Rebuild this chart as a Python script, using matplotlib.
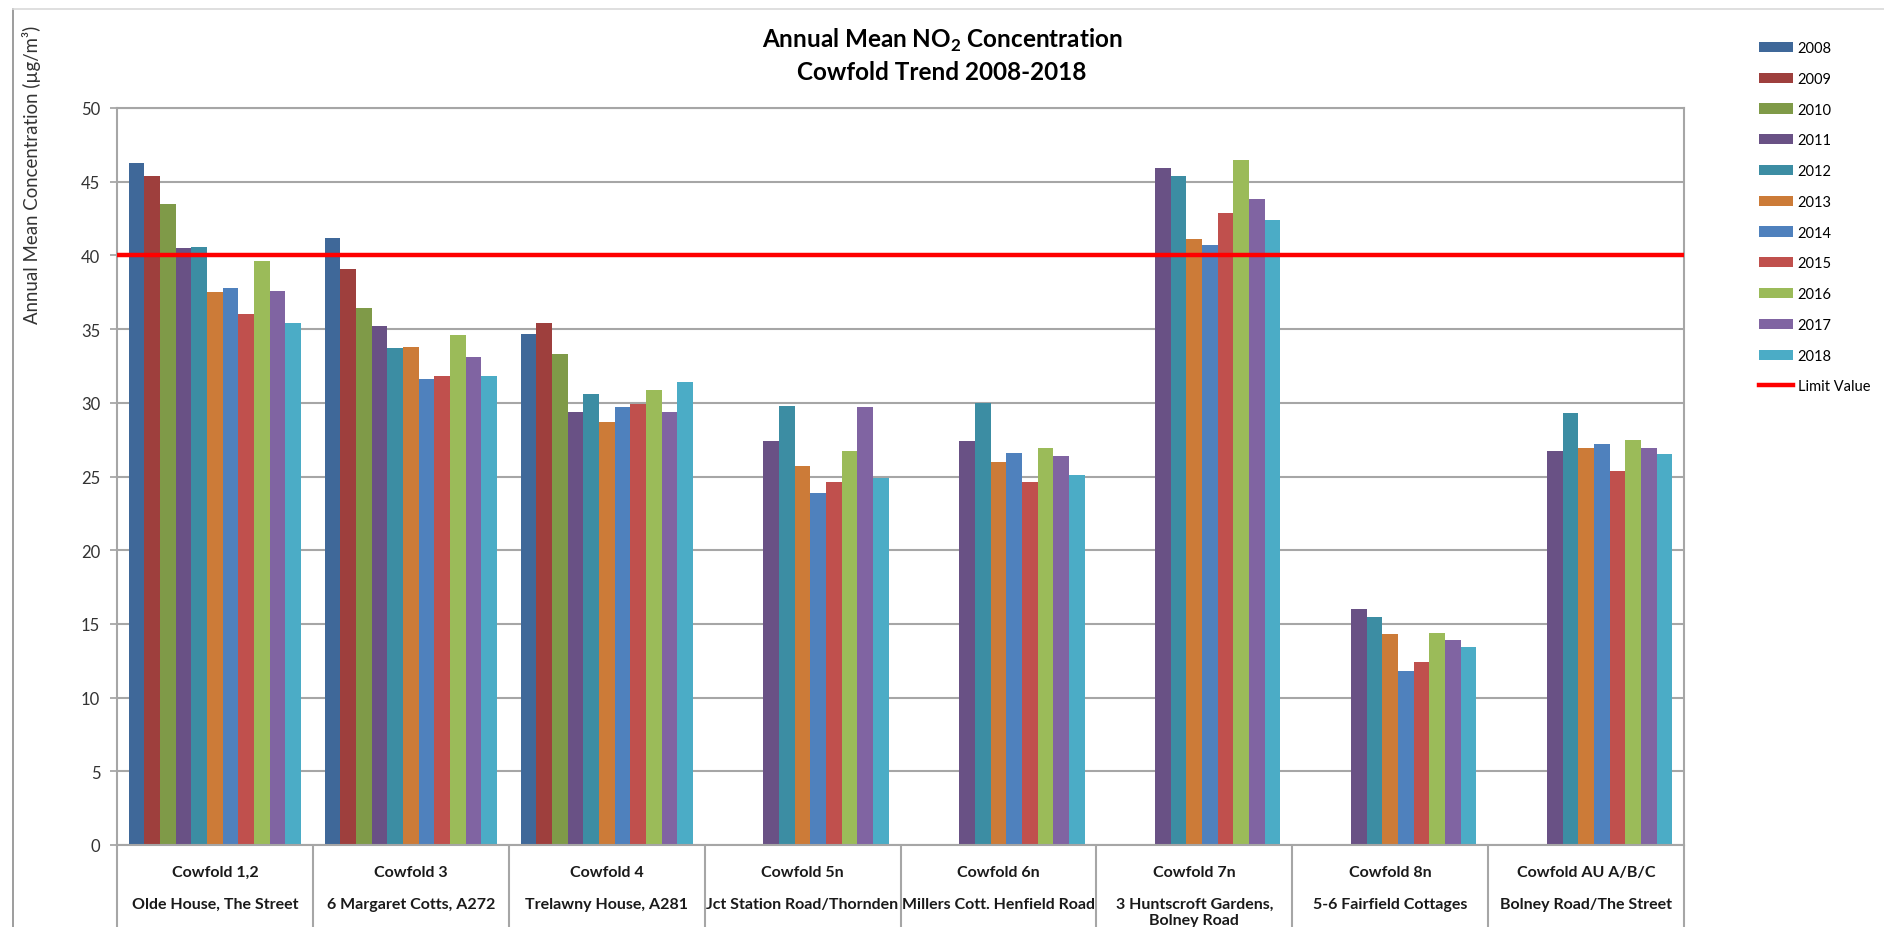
import numpy as np
import matplotlib
matplotlib.use("Agg")
import matplotlib.pyplot as plt
from matplotlib.lines import Line2D

plt.rcParams['font.family'] = ['Lato', 'DejaVu Sans']
plt.rcParams['mathtext.fontset'] = 'custom'
plt.rcParams['mathtext.rm'] = 'Lato'
plt.rcParams['mathtext.bf'] = 'Lato:bold'

# --- data ---
sites = ["Cowfold 1,2", "Cowfold 3", "Cowfold 4", "Cowfold 5n",
         "Cowfold 6n", "Cowfold 7n", "Cowfold 8n", "Cowfold AU A/B/C"]
addresses = ["Olde House, The Street", "6 Margaret Cotts, A272", "Trelawny House, A281",
             "Jct Station Road/Thornden", "Millers Cott. Henfield Road",
             "3 Huntscroft Gardens,\nBolney Road", "5-6 Fairfield Cottages",
             "Bolney Road/The Street"]
years = ["2008", "2009", "2010", "2011", "2012", "2013",
         "2014", "2015", "2016", "2017", "2018"]
N = None
# one list per year, one value per site
y2008 = [46.3, 41.2, 34.7, N, N, N, N, N]
y2009 = [45.4, 39.1, 35.4, N, N, N, N, N]
y2010 = [43.5, 36.4, 33.3, N, N, N, N, N]
y2011 = [40.5, 35.2, 29.4, 27.4, 27.4, 45.9, 16.0, 26.7]
y2012 = [40.6, 33.7, 30.6, 29.8, 30.0, 45.4, 15.5, 29.3]
y2013 = [37.5, 33.8, 28.7, 25.7, 26.0, 41.1, 14.3, 26.9]
y2014 = [37.8, 31.6, 29.7, 23.9, 26.6, 40.7, 11.8, 27.2]
y2015 = [36.0, 31.8, 29.9, 24.6, 24.6, 42.9, 12.4, 25.4]
y2016 = [39.6, 34.6, 30.9, 26.7, 26.9, 46.5, 14.4, 27.5]
y2017 = [37.6, 33.1, 29.4, 29.7, 26.4, 43.8, 13.9, 26.9]
y2018 = [35.4, 31.8, 31.4, 24.9, 25.1, 42.4, 13.4, 26.5]
limit_value = 40

series = [y2008, y2009, y2010, y2011, y2012, y2013,
          y2014, y2015, y2016, y2017, y2018]
colors = ['#3F6899', '#9E3F3D', '#7F9A48', '#695185', '#3C8DA3', '#CC7B38',
          '#4F81BD', '#C0504D', '#9BBB59', '#8064A2', '#4BACC6']

W, H = 1884, 928
fig = plt.figure(figsize=(W / 100, H / 100), dpi=100)
ax = fig.add_axes([117 / W, 1 - 846 / H, (1684 - 117) / W, (846 - 109) / H])

x = np.arange(len(sites))
bw = 1 / 12.5  # Excel gap width 150%
handles = []
for j, vals in enumerate(series):
    h = np.array([np.nan if v is None else v for v in vals], dtype=float)
    handles.append(ax.bar(x + (j - 5) * bw, h, width=bw, color=colors[j],
                          label=years[j], zorder=2))

lim = ax.axhline(limit_value, color='#FF0000', lw=3.2, zorder=3, label='Limit Value')
handles.append(lim)

ax.set_xlim(-0.5, len(sites) - 0.5)
ax.set_ylim(0, 50)
ax.set_yticks(np.arange(0, 51, 5))
ax.yaxis.grid(True, color='#A6A6A6', lw=1.5, zorder=0)
ax.set_axisbelow(True)
ax.tick_params(axis='y', length=5, width=1.2, color='#A0A0A0', labelsize=12,
               labelcolor='#333333', pad=7)
ax.set_xticks([])
for s in ax.spines.values():
    s.set_color('#A6A6A6')
    s.set_linewidth(1.5)

# table-like category cells below the axis
tr = ax.get_xaxis_transform()
ax.vlines(np.arange(len(sites) + 1) - 0.5, -0.12, 0, transform=tr,
          color='#A6A6A6', lw=1.5, clip_on=False)
for i in range(len(sites)):
    ax.text(i, -(873 - 846) / 737, sites[i], transform=tr, ha='center', va='center',
            fontsize=11.5, fontweight='bold', color='#1a1a1a')
    ax.text(i, -(898 - 846) / 737, addresses[i], transform=tr, ha='center', va='top',
            fontsize=11.5, fontweight='bold', color='#1a1a1a', linespacing=1.15)

# titles
fig.text(0.5, 1 - 40 / H, r'Annual Mean NO$_\mathbf{2}$ Concentration', ha='center',
         va='center', fontsize=17.5, fontweight='bold')
fig.text(0.5, 1 - 72 / H, 'Cowfold Trend 2008-2018', ha='center', va='center',
         fontsize=17.5, fontweight='bold')
fig.text(32 / W, 1 - 175 / H, 'Annual Mean Concentration (µg/m³)',
         rotation=90, ha='center', va='center', fontsize=13.4, color='#333333')

# legend
ax.legend(handles=handles, loc='upper left', bbox_to_anchor=(1759 / W, 1 - 42 / H),
          bbox_transform=fig.transFigure, frameon=False, fontsize=10.5,
          labelspacing=1.15, handlelength=2.3, handletextpad=0.35,
          borderpad=0, borderaxespad=0)

# outer chart frame
fig.add_artist(Line2D([13 / W, 13 / W], [0, 1 - 10 / H], color='#8C8C8C', lw=1.2))
fig.add_artist(Line2D([13 / W, 1], [1 - 10 / H, 1 - 10 / H], color='#D9D9D9', lw=1.2))

fig.savefig('out.png', dpi=100)
